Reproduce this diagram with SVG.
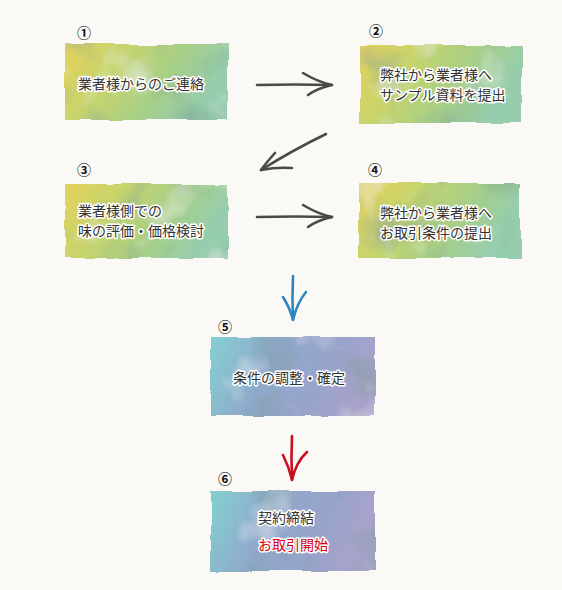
<svg xmlns="http://www.w3.org/2000/svg" width="562" height="590" viewBox="0 0 562 590">
<defs>
<style>
.lbl{font-family:"Noto Sans CJK JP","Noto Sans",sans-serif;font-size:14px;fill:#333;stroke:#fff;stroke-width:3px;stroke-linejoin:round;paint-order:stroke}
.red{fill:#d7000f}
.num{font-family:"Noto Sans CJK JP","DejaVu Sans",sans-serif;font-size:14px;font-weight:bold;fill:#111;text-anchor:middle}
.arr{fill:none;stroke:#4a4a48;stroke-width:2.6;stroke-linecap:round;stroke-linejoin:round}
.blue{fill:none;stroke:#2f86c0;stroke-width:2.6;stroke-linecap:round}
.redarr{fill:none;stroke:#c8101e;stroke-width:2.6;stroke-linecap:round}
</style>
<linearGradient id="gy" x1="0" y1="0" x2="1" y2="0.3">
<stop offset="0" stop-color="#e4d25c"/>
<stop offset="0.35" stop-color="#c6d46c"/>
<stop offset="0.7" stop-color="#a6cf88"/>
<stop offset="1" stop-color="#96cdae"/>
</linearGradient>
<linearGradient id="gb" x1="0" y1="0" x2="1" y2="0.2">
<stop offset="0" stop-color="#84d0d0"/>
<stop offset="0.4" stop-color="#90a8cc"/>
<stop offset="0.75" stop-color="#98a4cb"/>
<stop offset="1" stop-color="#a8a2cb"/>
</linearGradient>
<filter id="wc" x="-10%" y="-10%" width="120%" height="120%">
<feTurbulence type="fractalNoise" baseFrequency="0.03" numOctaves="2" seed="3" result="n"/>
<feDisplacementMap in="SourceGraphic" in2="n" scale="5" xChannelSelector="R" yChannelSelector="G" result="d"/>
<feTurbulence type="fractalNoise" baseFrequency="0.02" numOctaves="3" seed="8" result="m"/>
<feColorMatrix in="m" type="matrix" values="0 0 0 0 1  0 0 0 0 1  0 0 0 0 1  0 0 0 -1.3 0.55" result="w"/>
<feComposite in="w" in2="d" operator="in" result="wm"/>
<feColorMatrix in="m" type="matrix" values="0 0 0 0 0.2  0 0 0 0 0.35  0 0 0 0 0.3  1.6 0 0 0 -0.85" result="k"/>
<feComposite in="k" in2="d" operator="in" result="km"/>
<feMerge><feMergeNode in="d"/><feMergeNode in="km"/><feMergeNode in="wm"/></feMerge>
</filter>
</defs>
<rect width="562" height="590" fill="#faf9f6"/>

<g id="node1">
<rect x="65" y="44" width="163" height="76" fill="url(#gy)" filter="url(#wc)"/>
<text class="num" x="84" y="38">①</text>
<text class="lbl" x="78" y="89">業者様からのご連絡</text>
</g>
<g id="node2">
<rect x="360" y="45" width="162" height="78" fill="url(#gy)" filter="url(#wc)"/>
<text class="num" x="376" y="36">②</text>
<text class="lbl" x="380" y="80">弊社から業者様へ</text>
<text class="lbl" x="380" y="100">サンプル資料を提出</text>
</g>
<g id="node3">
<rect x="65" y="184" width="163" height="74" fill="url(#gy)" filter="url(#wc)"/>
<text class="num" x="84" y="175">③</text>
<text class="lbl" x="78" y="216">業者様側での</text>
<text class="lbl" x="78" y="236">味の評価・価格検討</text>
</g>
<g id="node4">
<rect x="359" y="183" width="161" height="75" fill="url(#gy)" filter="url(#wc)"/>
<text class="num" x="375" y="175">④</text>
<text class="lbl" x="380" y="218">弊社から業者様へ</text>
<text class="lbl" x="380" y="238">お取引条件の提出</text>
</g>
<g id="node5">
<rect x="211" y="337" width="164" height="79" fill="url(#gb)" filter="url(#wc)"/>
<text class="num" x="225" y="332">⑤</text>
<text class="lbl" x="233" y="383">条件の調整・確定</text>
</g>
<g id="node6">
<rect x="211" y="491" width="164" height="80" fill="url(#gb)" filter="url(#wc)"/>
<text class="num" x="225" y="484">⑥</text>
<text class="lbl" x="258" y="523">契約締結</text>
<text class="lbl red" x="258" y="550">お取引開始</text>
</g>

<g id="connectors">
<path class="arr" d="M257 85 Q295 84 332 85"/>
<path class="arr" d="M303 73 Q318 82 332 85 Q318 88 308 95"/>
<path class="arr" d="M326 134 Q293 150 261 170"/>
<path class="arr" d="M275 153 Q266 163 261 170 Q276 167 292 168"/>
<path class="arr" d="M257 217 Q295 216 332 217"/>
<path class="arr" d="M303 205 Q318 214 332 217 Q318 220 308 227"/>
<path class="blue" d="M293 276 Q292 298 293 320"/>
<path class="blue" d="M283 297 Q290 308 293 320 Q297 303 306 292"/>
<path class="redarr" d="M292 436 Q291 458 292 480"/>
<path class="redarr" d="M283 455 Q289 467 292 480 Q296 462 307 452"/>
</g>
</svg>
